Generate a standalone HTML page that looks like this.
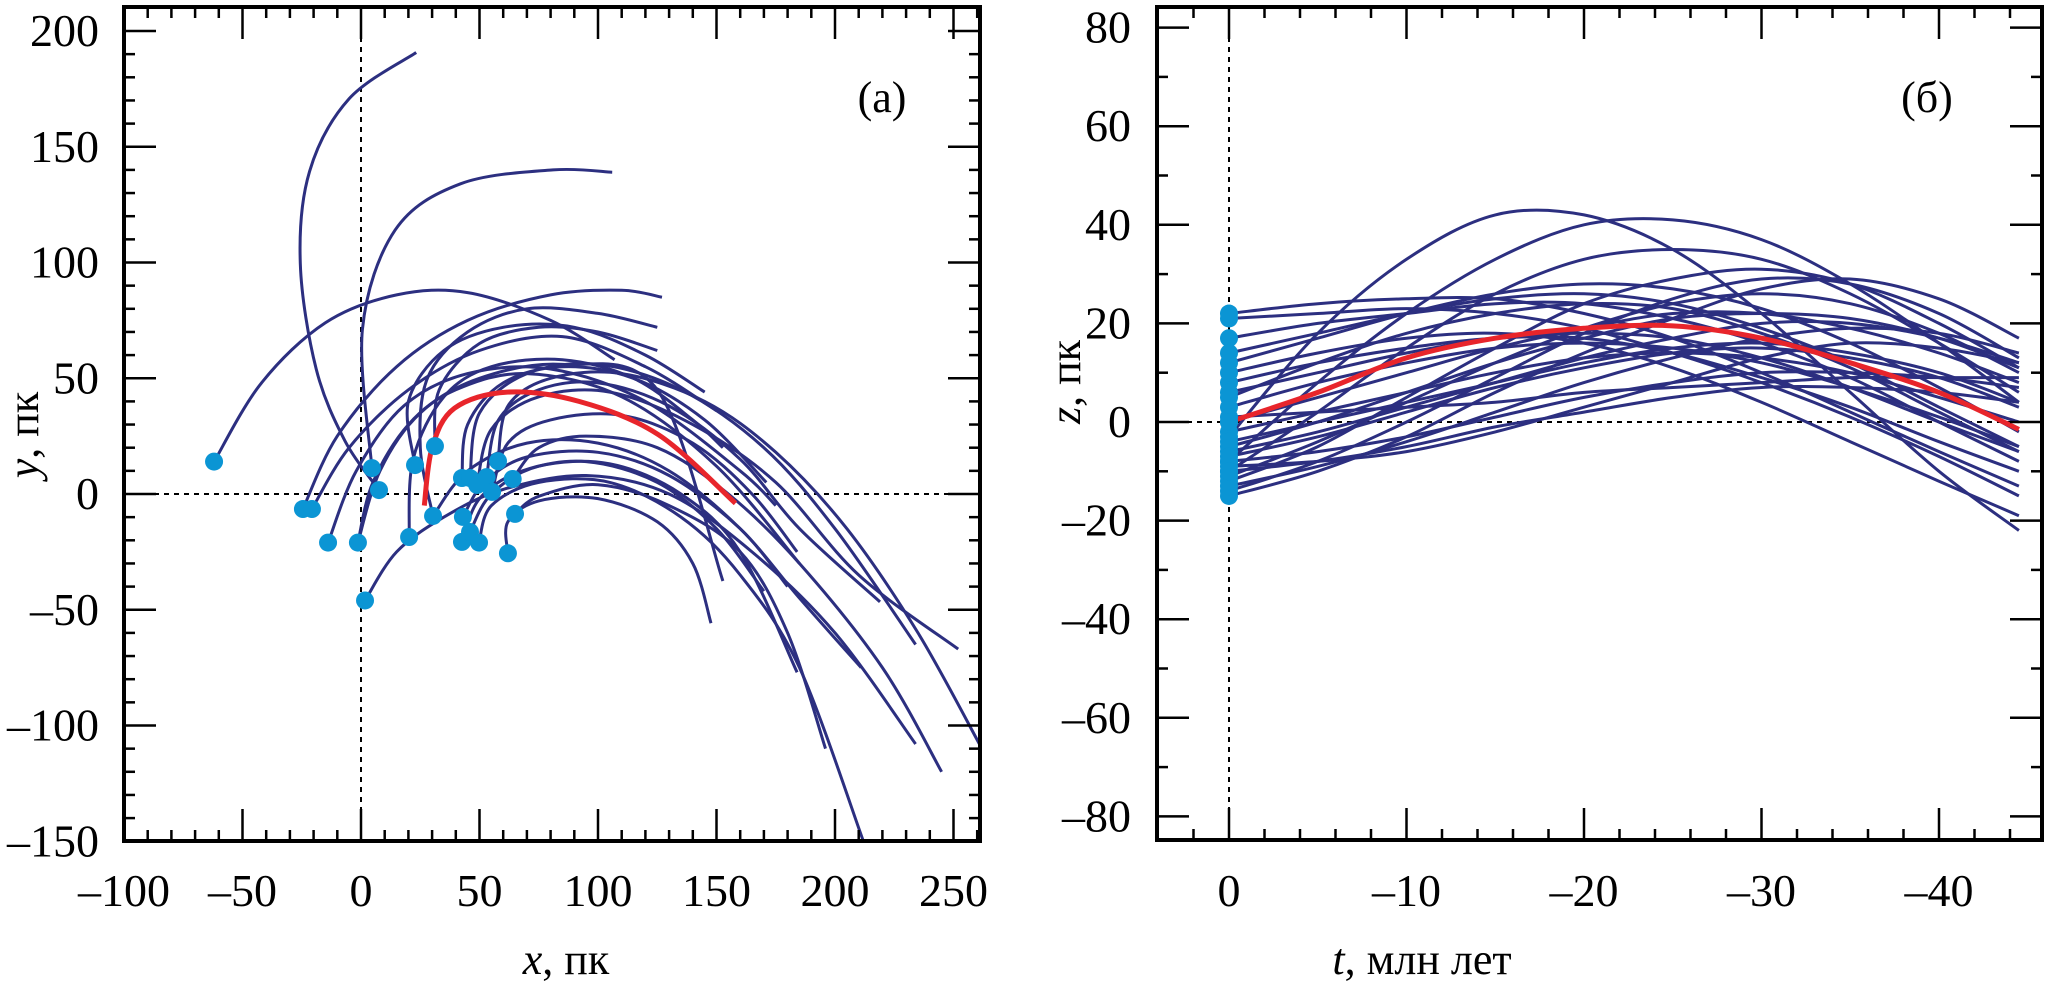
<!DOCTYPE html>
<html><head><meta charset="utf-8"><style>
html,body{margin:0;padding:0;background:#fff;}
svg{display:block;font-family:"Liberation Serif",serif;}
</style></head><body>
<svg id="chart" width="2067" height="982" viewBox="0 0 2067 982" xmlns="http://www.w3.org/2000/svg">
<defs>
<clipPath id="clipA"><rect x="124" y="7" width="856" height="834"/></clipPath>
<clipPath id="clipB"><rect x="1157" y="7" width="885" height="834"/></clipPath>
</defs>
<g id="panelA"></g>
<g id="panelB"></g>
<text x="566" y="974" font-size="44" text-anchor="middle"><tspan font-style="italic">x</tspan>, пк</text>
<text x="1422" y="974" font-size="44" text-anchor="middle"><tspan font-style="italic">t</tspan>, млн лет</text>
<text transform="translate(38,435) rotate(-90)" font-size="44" text-anchor="middle"><tspan font-style="italic">y</tspan>, пк</text>
<text transform="translate(1080,382) rotate(-90)" font-size="44" text-anchor="middle"><tspan font-style="italic">z</tspan>, пк</text>
<text x="882" y="112" font-size="44" text-anchor="middle">(a)</text>
<text x="1927" y="112" font-size="44" text-anchor="middle">(б)</text>
</svg>
<script>
// ---------- Panel (a) data: trajectories in x,y (pc) ----------
const trajA = [
 [[7.6,1.7],[-6.7,22.8],[-18.9,54],[-25.6,99.6],[-21.7,139.4],[-5,170.7],[23.3,190.7]],
 [[4.6,11.2],[0.6,71],[14.4,114],[42,134],[81,140],[106,139]],
 [[-62,14],[-42,48],[-15,74],[15,86],[45,87],[80,75],[107,58]],
 [[-24.5,-6.5],[-10,25],[15,55],[45,75],[80,86],[110,88],[127,85]],
 [[-20.7,-6.5],[-5,20],[20,45],[50,62],[85,68],[120,55],[150,36]],
 [[-13.9,-21],[-2,10],[18,38],[45,52],[80,54],[120,40],[160,10],[175,-5]],
 [[-1.3,-21],[5,5],[20,30],[40,45],[70,52],[110,42],[150,12],[185,-30]],
 [[1.7,-46],[15,-25],[35,-10],[60,2],[95,8],[130,0],[165,-25],[200,-60],[234,-108]],
 [[22.8,12.5],[20,40],[35,62],[60,72],[90,72],[120,60],[145,44]],
 [[20.3,-18.6],[22,15],[35,42],[55,55],[85,58],[115,50],[140,32],[152.7,20]],
 [[31.2,20.7],[33,45],[50,65],[75,72],[100,70],[125,62]],
 [[30.4,-9.5],[45,10],[70,22],[100,22],[130,10],[160,-15],[185,-45],[211,-75]],
 [[42.6,6.9],[45,30],[60,48],[85,55],[115,50],[145,32],[171,5]],
 [[46,6.9],[50,35],[70,52],[100,56],[135,45],[170,20],[200,-15],[234,-65]],
 [[49,3.9],[55,28],[75,42],[105,44],[140,30],[175,5],[210,-35],[252,-67]],
 [[53,7.3],[58,32],[75,45],[100,48],[130,38],[160,15],[185,-15],[219,-46.6]],
 [[57.8,14.2],[62,38],[80,50],[110,52],[145,40],[175,18],[205,-15],[235,-60],[262,-110]],
 [[55.3,0.9],[62,22],[80,32],[110,34],[140,22],[165,0],[184,-25]],
 [[64,6.5],[75,20],[95,25],[125,20],[155,0],[185,-30],[220,-75],[245,-120]],
 [[43,-9.9],[52,5],[70,16],[100,18],[130,8],[160,-15],[180,-40]],
 [[42.6,-20.7],[50,-2],[68,10],[95,14],[125,5],[150,-15],[170,-42]],
 [[46,-16.4],[55,0],[75,12],[105,13],[135,0],[160,-25],[184,-77]],
 [[49.8,-21],[55,-5],[75,5],[105,5],[135,-10],[160,-35],[185,-75],[212,-150]],
 [[65,-8.6],[75,-1],[100,4],[130,-5],[160,-25],[180,-60],[196,-110]],
 [[62,-25.6],[62,-12],[75,-3],[100,-2],[125,-12],[140,-30],[147.7,-55.8]],
 [[30.4,-9.5],[25,20],[28,50],[45,70],[70,80],[100,78],[125,72]],
 [[-1.3,-21],[8,10],[25,35],[50,50],[85,56],[125,45],[152.7,-37.6]]
];
const redA = [[26.7,-5],[30,20],[39.4,37],[61.7,44],[92,40],[125.5,25.6],[158,-4]];
const dotsA = [[-62,14],[-24.5,-6.5],[-20.7,-6.5],[-13.9,-21],[-1.3,-21],[1.7,-46],[4.6,11.2],[7.6,1.7],
 [22.8,12.5],[20.3,-18.6],[31.2,20.7],[30.4,-9.5],[42.6,6.9],[46,6.9],[49,3.9],[53,7.3],[57.8,14.2],
 [55.3,0.9],[64,6.5],[43,-9.9],[42.6,-20.7],[46,-16.4],[49.8,-21],[65,-8.6],[62,-25.6]];
const xTicksA = [-100,-50,0,50,100,150,200,250];
const yTicksA = [-150,-100,-50,0,50,100,150,200];

// ---------- Panel (b) data: z(t) ----------
const tSamples = [0,-5,-10,-15,-20,-25,-30,-35,-40,-44.5];
const zSeries = [
 [-3,18,33,42,42,35,22,6,-10,-22],
 [-8,8,22,33,40,41,37,28,16,4],
 [-10,2,15,26,33,35,33,26,16,6],
 [21,22,23,22,19,14,8,1,-7,-15],
 [17,20,22,24,24,21,16,9,0,-8],
 [14,18,22,25,26,24,19,12,3,-5],
 [12,17,22,26,28,27,23,16,7,-2],
 [-12,-5,5,15,24,29,31,28,20,11],
 [-14,-8,0,9,18,25,29,28,22,13],
 [-15,-10,-3,6,14,21,27,29,25,17],
 [5,12,18,22,24,23,18,11,2,-6],
 [3,8,12,15,16,15,12,7,1,-5],
 [-5,0,6,12,17,21,22,21,17,11],
 [-8,-6,-3,1,5,8,10,10,9,7],
 [-9,-8,-6,-2,3,8,13,16,15,12],
 [0,5,10,15,19,22,22,19,14,8],
 [-2,2,6,10,13,14,13,10,5,0],
 [8,12,15,17,17,14,9,3,-4,-10],
 [-6,-2,3,8,13,17,20,20,17,12],
 [-11,-4,4,12,19,24,26,24,18,10],
 [10,14,17,18,16,11,4,-4,-12,-19],
 [-4,0,4,8,12,15,16,14,10,4],
 [6,10,14,17,18,17,13,7,0,-6],
 [-7,-3,2,7,11,14,15,13,9,3],
 [-13,-9,-4,2,8,13,17,19,18,14],
 [22,24,25,25,22,17,10,2,-6,-13],
 [1,2,3,4,6,7,8,9,9,9],
 [-10,-8,-5,-1,2,5,7,7,6,4]
];
const zRed = [0,6,13,17,19,19.5,17,12,6,-1.5];
const tTicksB = [0,-10,-20,-30,-40];
const zTicksB = [-80,-60,-40,-20,0,20,40,60,80];

const NS="http://www.w3.org/2000/svg";
function mk(tag,attrs,parent){const e=document.createElementNS(NS,tag);for(const k in attrs)e.setAttribute(k,attrs[k]);parent.appendChild(e);return e;}
function smooth(pts){
 let d="M"+pts[0][0].toFixed(1)+","+pts[0][1].toFixed(1);
 for(let i=0;i<pts.length-1;i++){
  const p0=pts[Math.max(0,i-1)],p1=pts[i],p2=pts[i+1],p3=pts[Math.min(pts.length-1,i+2)];
  const c1=[p1[0]+(p2[0]-p0[0])/6,p1[1]+(p2[1]-p0[1])/6];
  const c2=[p2[0]-(p3[0]-p1[0])/6,p2[1]-(p3[1]-p1[1])/6];
  d+="C"+c1.map(v=>v.toFixed(1))+" "+c2.map(v=>v.toFixed(1))+" "+p2.map(v=>v.toFixed(1));
 }
 return d;
}
const navy="#2c2f80", red="#e8252b", cyan="#0b95d4";
function fmt(v){return v<0?"\u2013"+Math.abs(v):String(v);}
function tick(g,x1,y1,x2,y2){mk("line",{x1,y1,x2,y2,stroke:"#000","stroke-width":2.5},g);}

// ---------- Panel A ----------
const A=document.getElementById("panelA");
const L={l:124,r:980,t:7,b:841};
const xA=v=>361+v*2.37, yA=v=>494-v*2.315;
const gA=mk("g",{"clip-path":"url(#clipA)"},A);
let e=mk("line",{x1:xA(0),x2:xA(0),y1:L.t,y2:L.b,stroke:"#000","stroke-width":2,"stroke-dasharray":"5,5"},gA);


e=mk("line",{x1:L.l,x2:L.r,y1:yA(0),y2:yA(0),stroke:"#000","stroke-width":2,"stroke-dasharray":"5,5"},gA);


trajA.forEach((tr,i)=>{
 const p=mk("path",{d:smooth(tr.map(q=>[xA(q[0]),yA(q[1])])),fill:"none",stroke:navy,"stroke-width":3},gA);
 
 
});
e=mk("path",{d:smooth(redA.map(q=>[xA(q[0]),yA(q[1])])),fill:"none",stroke:red,"stroke-width":5},gA);


dotsA.forEach((q,i)=>{
 const c=mk("circle",{cx:xA(q[0]),cy:yA(q[1]),r:9,fill:cyan},gA);
 
 
});
const tkA=mk("g",{},A);


for(let v=-100;v<=260;v+=10){const x=xA(v);if(x<L.l+2||x>L.r-2)continue;const len=v%50===0?32:11;tick(tkA,x,L.b,x,L.b-len);tick(tkA,x,L.t,x,L.t+len);}
for(let v=-150;v<=210;v+=10){const y=yA(v);if(y<L.t+2||y>L.b-2)continue;const len=v%50===0?32:11;tick(tkA,L.l,y,L.l+len,y);tick(tkA,L.r,y,L.r-len,y);}
e=mk("rect",{x:L.l,y:L.t,width:L.r-L.l,height:L.b-L.t,fill:"none",stroke:"#000","stroke-width":4},A);


xTicksA.forEach(v=>{const t=mk("text",{x:xA(v),y:906,"font-size":46,"text-anchor":"middle"},A);t.textContent=fmt(v);
 
 });
yTicksA.forEach(v=>{const t=mk("text",{x:99,y:yA(v)+15,"font-size":46,"text-anchor":"end"},A);t.textContent=fmt(v);
 
 });

// ---------- Panel B ----------
const B=document.getElementById("panelB");
const R={l:1157,r:2042,t:7,b:840};
const xB=v=>1229-v*17.75, yB=v=>422-v*4.93;
const gB=mk("g",{"clip-path":"url(#clipB)"},B);
e=mk("line",{x1:xB(0),x2:xB(0),y1:R.t,y2:R.b,stroke:"#000","stroke-width":2,"stroke-dasharray":"5,5"},gB);


e=mk("line",{x1:R.l,x2:R.r,y1:yB(0),y2:yB(0),stroke:"#000","stroke-width":2,"stroke-dasharray":"5,5"},gB);


zSeries.forEach((s,i)=>{
 const p=mk("path",{d:smooth(s.map((z,k)=>[xB(tSamples[k]),yB(z)])),fill:"none",stroke:navy,"stroke-width":3},gB);
 
 
});
e=mk("path",{d:smooth(zRed.map((z,k)=>[xB(tSamples[k]),yB(z)])),fill:"none",stroke:red,"stroke-width":5},gB);


zSeries.concat([zRed]).forEach((s,i)=>{
 const c=mk("circle",{cx:xB(0),cy:yB(s[0]),r:9,fill:cyan},gB);
 
 
});
const tkB=mk("g",{},B);


for(let v=4;v>=-46;v-=2){const x=xB(v);if(x<R.l+2||x>R.r-2)continue;const len=v%10===0?32:11;tick(tkB,x,R.b,x,R.b-len);tick(tkB,x,R.t,x,R.t+len);}
for(let v=-80;v<=80;v+=10){const y=yB(v);const len=v%20===0?32:11;tick(tkB,R.l,y,R.l+len,y);tick(tkB,R.r,y,R.r-len,y);}
e=mk("rect",{x:R.l,y:R.t,width:R.r-R.l,height:R.b-R.t,fill:"none",stroke:"#000","stroke-width":4},B);


tTicksB.forEach(v=>{const t=mk("text",{x:xB(v),y:906,"font-size":46,"text-anchor":"middle"},B);t.textContent=fmt(v);
 
 });
zTicksB.forEach(v=>{const t=mk("text",{x:1131,y:yB(v)+15,"font-size":46,"text-anchor":"end"},B);t.textContent=fmt(v);
 
 });
</script>
</body></html>
